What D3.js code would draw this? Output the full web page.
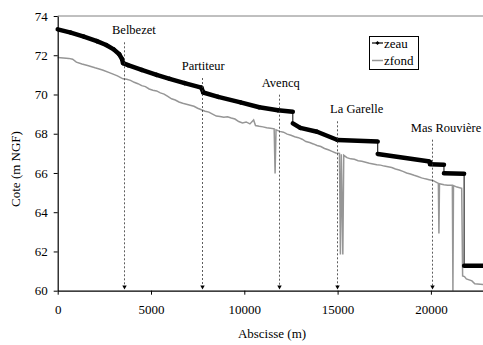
<!DOCTYPE html>
<html><head><meta charset="utf-8">
<script src="https://cdn.jsdelivr.net/npm/d3@7"></script>
<style>body{margin:0;background:#fff}svg{display:block}</style>
</head><body><svg id="c" width="483" height="345"></svg>
<script>
// ---- data ----
const xTicks = [0, 5000, 10000, 15000, 20000];
const yTicks = [60, 62, 64, 66, 68, 70, 72, 74];
const seriesNames = ["zeau", "zfond"];
const zeauX = [0,700,1400,2100,2600,3000,3300,3450,3500,3770,4500,5300,6000,6800,7700,7800,8600,9800,10800,11800,12600,12600,13000,13900,15000,17150,17150,19850,19950,19950,20700,20700,21780,21780,23000];
const zeauY = [73.32,73.15,72.95,72.72,72.52,72.3,72.05,71.8,71.6,71.5,71.25,71.0,70.8,70.58,70.35,70.1,69.88,69.6,69.35,69.2,69.12,68.53,68.3,68.1,67.68,67.6,66.97,66.6,66.58,66.44,66.42,65.98,65.96,61.27,61.27];
const zfondX = [0,300,600,800,1000,1300,1600,2000,2400,2800,3200,3500,3700,3900,4100,4300,4500,4700,4900,5100,5300,5500,5700,5900,6100,6300,6500,6700,6900,7100,7300,7500,7700,7900,8100,8300,8500,8700,8900,9100,9300,9500,9700,9900,10100,10300,10500,10600,10800,11000,11200,11400,11600,11650,11700,11900,12100,12300,12500,12700,12900,13100,13300,13500,13700,13900,14100,14300,14500,14700,14900,15100,15150,15200,15280,15330,15500,15700,15900,16100,16300,16500,16700,16900,17100,17300,17500,17700,17900,18100,18300,18500,18700,18900,19100,19300,19500,19700,19900,20100,20300,20400,20430,20460,20700,20900,21150,21180,21210,21400,21650,21700,21800,21900,22200,22350,23000];
const zfondY = [71.88,71.86,71.84,71.8,71.65,71.55,71.48,71.36,71.25,71.1,70.95,70.8,70.78,70.72,70.62,70.55,70.45,70.4,70.28,70.22,70.18,70.08,70.02,69.9,69.78,69.72,69.62,69.55,69.5,69.45,69.4,69.3,69.22,69.15,69.1,69.0,68.9,68.88,68.84,68.86,68.8,68.75,68.62,68.55,68.6,68.5,68.7,68.42,68.38,68.35,68.3,68.28,68.25,65.97,68.2,68.12,68.08,67.98,67.92,67.85,67.8,67.72,67.6,67.55,67.48,67.4,67.35,67.25,67.18,67.1,67.02,67.0,61.85,66.95,61.85,66.9,66.78,66.72,66.7,66.62,66.6,66.55,66.5,66.46,66.42,66.4,66.35,66.32,66.28,66.2,66.15,66.08,66.0,65.95,65.88,65.82,65.75,65.7,65.66,65.62,65.52,65.47,62.92,65.45,65.4,65.38,65.38,60.0,65.36,65.28,65.22,60.75,60.72,60.6,60.5,60.35,60.3];
const siteNames = ["Belbezet", "Partiteur", "Avencq", "La Garelle", "Mas Rouvière"];
const siteX = [3570, 7750, 11880, 14990, 20050];

// ---- layout ----
const FONT = "'Liberation Serif','Times New Roman','DejaVu Serif',serif";
const svg = d3.select("#c");
const x = d3.scaleLinear().domain([0, 23000]).range([57.7, 57.7 + 23000 * 93.3 / 5000]);
const y = d3.scaleLinear().domain([60, 74]).range([290.7, 16]);
const labelDx = [-12.3, -20.6, -17.6, -7.3, -21];
const labelY = [34.3, 70, 86.7, 113.3, 131.7];

svg.append("rect").attr("width", 483).attr("height", 345).attr("fill", "#fff");
svg.append("line").attr("x1", x(0)).attr("x2", 483).attr("y1", y(74)).attr("y2", y(74)).attr("stroke", "#808080").attr("stroke-width", 1);

// zfond
const zfond = zfondX.map((d, i) => [d, zfondY[i]]);
svg.append("path").datum(zfond)
  .attr("d", d3.line().x(d => x(d[0])).y(d => y(d[1])))
  .attr("fill", "none").attr("stroke", "#969696").attr("stroke-width", 1.5).attr("stroke-linejoin", "miter");

// zeau: thin for vertical drops, thick elsewhere
const zeau = zeauX.map((d, i) => [d, zeauY[i]]);
const segs = d3.pairs(zeau);
svg.append("g").selectAll("line").data(segs).join("line")
  .attr("x1", d => x(d[0][0])).attr("y1", d => y(d[0][1]))
  .attr("x2", d => x(d[1][0])).attr("y2", d => y(d[1][1]))
  .attr("stroke", "#000")
  .attr("stroke-width", d => d[0][0] === d[1][0] ? 1 : 4.5)
  .attr("stroke-linecap", d => d[0][0] === d[1][0] ? "butt" : "round");

// site annotations
const sites = siteNames.map((n, i) => ({ n, xv: siteX[i], dx: labelDx[i], ly: labelY[i] }));
const ann = svg.append("g");
ann.selectAll("line").data(sites).join("line")
  .attr("x1", d => Math.round(x(d.xv)) + 0.5).attr("x2", d => Math.round(x(d.xv)) + 0.5)
  .attr("y1", d => d.ly + 8).attr("y2", 287)
  .attr("stroke", "#333").attr("stroke-width", 0.8).attr("stroke-dasharray", "2,2");
ann.selectAll("path").data(sites).join("path")
  .attr("d", d => { const cx = Math.round(x(d.xv)) + 0.5; return `M${cx - 2.2},285.5L${cx + 2.2},285.5L${cx},289.5Z`; })
  .attr("fill", "#000");

// axes
const ya = svg.append("g").attr("transform", `translate(${x(0)},0)`)
  .call(d3.axisLeft(y).tickValues(yTicks).tickSize(4).tickSizeOuter(0).tickPadding(6));
const xa = svg.append("g").attr("transform", `translate(0,${y(60)})`)
  .call(d3.axisBottom(x).tickValues(xTicks).tickSize(4).tickSizeOuter(0).tickPadding(10).tickFormat(d3.format("d")));
[ya, xa].forEach(g => {
  g.attr("font-family", null).attr("font-size", null);
  g.select(".domain").attr("stroke", "#000").attr("stroke-width", 1.2);
  g.selectAll(".tick line").attr("stroke", "#000");
});

svg.append("text").attr("x", 272).attr("y", 338).attr("text-anchor", "middle").text("Abscisse (m)");
svg.append("text").attr("transform", "translate(19.5,169) rotate(-90)").attr("text-anchor", "middle").text("Cote (m NGF)");

// legend
const lg = svg.append("g");
lg.append("rect").attr("x", 369.5).attr("y", 36.5).attr("width", 49).attr("height", 33)
  .attr("fill", "#fff").attr("stroke", "#000").attr("stroke-width", 1);
const legColors = ["#000", "#969696"];
const legY = [43, 60.5];
seriesNames.forEach((n, i) => {
  lg.append("line").attr("x1", 372).attr("x2", 383).attr("y1", legY[i]).attr("y2", legY[i])
    .attr("stroke", legColors[i]).attr("stroke-width", i === 0 ? 1.2 : 1.5);
  if (i === 0) lg.append("path").attr("d", `M377.5,${legY[i] - 2}L379.5,${legY[i]}L377.5,${legY[i] + 2}L375.5,${legY[i]}Z`).attr("fill", "#000");
  lg.append("text").attr("x", 384).attr("y", legY[i] + 4.5).text(n);
});

svg.selectAll("text").style("font-family", FONT).style("font-size", "13px").style("fill", "#000");

const siteLabels = ann.selectAll("text").data(sites).join("text")
  .attr("x", d => x(d.xv) + d.dx).attr("y", d => d.ly).text(d => d.n)
  .style("font-family", FONT).style("font-size", "12.5px").style("fill", "#000");
</script></body></html>
